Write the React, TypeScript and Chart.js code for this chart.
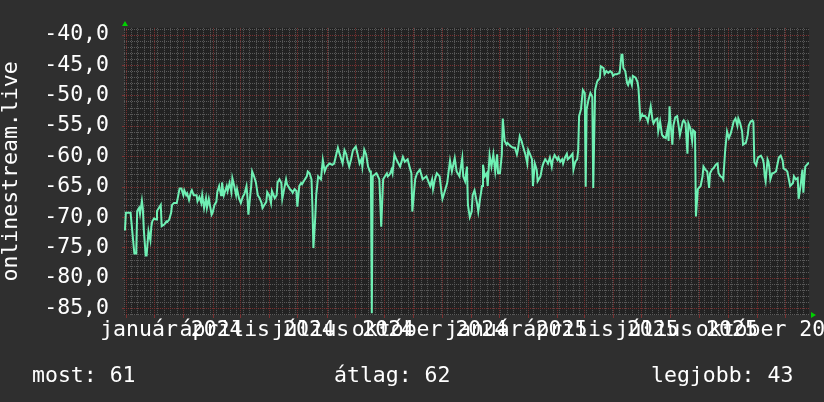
import React, { useEffect, useRef } from "react";
import { Chart, registerables } from "chart.js";

Chart.register(...registerables);

// ---------- data ----------
const START_UTC = Date.UTC(2023, 9, 30); // day 0 of the graph (2023-10-30)
const DAY_MS = 86400000;
const X_SPAN_DAYS = 727;
const Y_MIN = -86.1;
const Y_MAX = -38.9;

const dayOffsets = [
  1, 2, 7, 9, 11, 13, 14, 16, 17, 19, 20, 21, 23, 24, 26, 28, 29, 30, 32, 34, 35, 37, 39, 40, 43, 45, 46, 48, 50, 51,
  53, 56, 59, 61, 62, 63, 64, 66, 67, 69, 71, 72, 74, 77, 78, 80, 82, 83, 85, 87, 88, 90, 93, 94, 96, 98, 99, 101, 103, 104,
  106, 109, 110, 112, 114, 115, 117, 119, 120, 122, 124, 126, 128, 130, 131, 132, 134, 135, 136, 138, 140, 142, 144, 146, 147, 149, 151, 152, 154, 156,
  157, 160, 162, 163, 165, 167, 168, 170, 172, 173, 176, 178, 179, 181, 183, 184, 186, 188, 189, 192, 194, 195, 197, 199, 200, 201, 203, 204, 205, 206,
  209, 211, 213, 215, 218, 221, 223, 227, 229, 232, 234, 236, 237, 239, 241, 243, 246, 248, 250, 252, 253, 255, 257, 259, 261, 262, 263, 264, 268, 271,
  273, 275, 277, 279, 280, 282, 284, 285, 287, 289, 293, 296, 298, 301, 303, 305, 306, 309, 311, 314, 317, 321, 325, 327, 328, 330, 332, 335, 337, 338,
  340, 343, 346, 348, 351, 353, 356, 359, 360, 362, 364, 365, 367, 369, 370, 372, 375, 376, 378, 380, 381, 383, 385, 386, 388, 390, 392, 394, 396, 397,
  399, 401, 402, 404, 406, 407, 410, 413, 415, 417, 418, 420, 422, 423, 426, 428, 429, 431, 433, 434, 436, 438, 439, 442, 444, 445, 447, 449, 450, 452,
  454, 455, 457, 460, 461, 463, 465, 466, 468, 470, 471, 473, 476, 477, 479, 481, 482, 483, 485, 487, 489, 490, 491, 493, 495, 497, 498, 500, 502, 503,
  505, 506, 509, 510, 512, 514, 516, 518, 519, 521, 523, 526, 528, 529, 530, 532, 534, 535, 537, 539, 540, 543, 545, 546, 548, 550, 551, 553, 555, 556,
  559, 561, 562, 564, 566, 567, 569, 571, 572, 575, 577, 578, 579, 580, 582, 583, 585, 587, 588, 590, 593, 594, 596, 598, 599, 601, 603, 604, 606, 607,
  609, 612, 614, 615, 617, 619, 621, 622, 624, 626, 628, 630, 631, 633, 635, 636, 638, 640, 642, 644, 646, 647, 649, 651, 652, 654, 656, 657, 660, 662,
  663, 665, 667, 668, 669, 671, 672, 673, 676, 678, 679, 680, 681, 683, 684, 685, 686, 688, 689, 692, 695, 697, 699, 700, 702, 704, 707, 710, 711, 713,
  715, 716, 718, 720, 721, 723, 726, 727,
];

const signalValues = [
  -72.2, -69.3, -69.3, -72.7, -76, -76, -69, -68.5, -69.5, -67.3, -68.6, -72, -76.3, -76.3, -72.3, -73.8, -71.6, -70.7, -70.2, -70.4, -69, -68.5, -68, -71.5, -71.2, -70.7, -70.8, -70.4, -69.3, -68,
  -67.7, -67.7, -65.3, -65.3, -65.9, -66.4, -65.6, -66.4, -66.1, -67.2, -65.9, -65.6, -66.4, -66.4, -67.4, -66.7, -67.7, -66.4, -68.5, -66.9, -68.5, -67, -69.6, -69.3, -68, -67.5, -65.9, -64.9, -66.4, -64.3,
  -66.4, -64.9, -65.7, -64.4, -65.9, -63.6, -64.9, -66.4, -65.4, -66.9, -67.7, -66.7, -66.1, -64.9, -66.7, -69.6, -66.4, -64.9, -62.5, -63.3, -64.3, -66.4, -66.9, -67.7, -68.5, -68, -67.5, -65.9, -66.4, -67.7,
  -65.7, -66.9, -66.4, -64.3, -63.8, -64.4, -67, -65.4, -63.8, -64.6, -65.4, -65.7, -66, -65.4, -65.7, -68.3, -64.9, -64.4, -64.6, -63.8, -63.3, -62.5, -62.8, -63.8, -68.5, -75.1, -70, -66.4, -64.9, -63.3,
  -63.8, -60.6, -62.5, -61.7, -61.2, -61.4, -61.2, -58.6, -59.7, -61.2, -59, -59.7, -60.6, -61.7, -60.5, -59, -58.4, -59.7, -61.2, -60.5, -61.7, -58.9, -59.7, -61.7, -62.5, -62.5, -85.8, -63.3, -62.8, -63.8,
  -71.6, -63.8, -63.3, -62.8, -63.3, -63, -62.2, -62.8, -59.7, -60.5, -61.7, -60.1, -60.9, -60.5, -61.7, -62.8, -69.1, -63.8, -62.8, -62.2, -63.8, -63.3, -64.9, -63.8, -65.4, -63.8, -62.8, -63.3, -66, -67,
  -66, -64.4, -60.7, -62.5, -60.3, -62.5, -63.3, -60.3, -63.3, -64.1, -61.7, -68, -70, -69.1, -66.4, -65.6, -68, -69.1, -66.9, -64.9, -61.4, -63.3, -62.8, -64.9, -59.8, -61.7, -59.7, -62.5, -59.7, -62.8,
  -62.8, -59.7, -53.8, -57.5, -58.1, -57.8, -58.3, -58.6, -58.6, -59.7, -59, -56.7, -57.5, -58.1, -59.7, -61.2, -59, -59.7, -60.5, -64.9, -61.2, -62.2, -64.1, -63.3, -61.7, -61.2, -60.5, -60.9, -61.2, -60.2,
  -61.7, -60.6, -59.8, -60.6, -60.2, -60.9, -60.5, -61.2, -60.2, -59.6, -60.5, -60.2, -59.6, -62.2, -60.9, -60.5, -59.1, -53.4, -52.3, -49.1, -49.6, -65, -52.3, -50.7, -49.6, -50.2, -65.2, -49.1, -47.8, -47.5,
  -47.2, -45.2, -45.5, -46.5, -46, -46.3, -46, -46.3, -46.8, -46.5, -46.5, -46.3, -43.3, -43.3, -45.5, -46, -48, -48.3, -47.3, -48.3, -46.8, -47.1, -47.8, -48.8, -53.8, -53.1, -53.4, -53.4, -53.8, -54.3,
  -51.8, -54.1, -54.6, -54, -53.8, -55.9, -54.3, -56.5, -56.7, -57, -55.4, -57.5, -51.8, -54.5, -58.1, -55, -53.6, -53.4, -54.3, -56.5, -54.3, -54.1, -54.6, -59.6, -54.6, -55.4, -57.5, -55.7, -56, -69.9,
  -65.4, -64.9, -63.3, -61.7, -62.2, -62.5, -65.2, -62.8, -62.2, -61.9, -61.4, -61.2, -62.8, -63.3, -63.5, -63.8, -59.1, -55.9, -57, -56.2, -55, -54.3, -53.8, -55, -53.8, -54.6, -55.9, -58.1, -57.8, -56.5,
  -55, -54.3, -54.1, -54.4, -61, -61.5, -60.7, -60.2, -59.9, -60.5, -61.2, -63.3, -64.1, -60.5, -60.9, -62, -63.8, -62.8, -62.8, -62.5, -60.2, -59.9, -60.7, -62, -62.2, -62.5, -64.9, -64.4, -63.3, -63.8,
  -63.6, -67, -64.9, -62.2, -66, -61.7, -61.2, -61,
];

const monthNamesHu = [
  "január", "február", "március", "április", "május", "június",
  "július", "augusztus", "szeptember", "október", "november", "december",
];
const labelMonths: [number, number][] = [
  [2024, 0], [2024, 3], [2024, 6], [2024, 9],
  [2025, 0], [2025, 3], [2025, 6], [2025, 9],
];
const yAxisTitle = "onlinestream.live";
const summaryTexts = ["most: 61", "átlag: 62", "legjobb: 43"];

// ---------- derived tick tables ----------
const dayOf = (y: number, m: number, d = 1) => (Date.UTC(y, m, d) - START_UTC) / DAY_MS;

const monthStartDays: number[] = [];
for (let y = 2023; y <= 2025; y++) {
  for (let m = 0; m < 12; m++) {
    const d = dayOf(y, m);
    if (d >= 0 && d <= X_SPAN_DAYS) monthStartDays.push(d);
  }
}
const weekDays: number[] = [];
for (let d = 0; d <= X_SPAN_DAYS; d += 7) weekDays.push(d);
const majorX = new Set(monthStartDays);
const xLabelMap = new Map<number, string>(
  labelMonths.map(([y, m]) => [dayOf(y, m), `${monthNamesHu[m]} ${y}`])
);
const xTickValues = Array.from(new Set([...weekDays, ...monthStartDays])).sort((a, b) => a - b);
const yTickValues: number[] = [];
for (let v = Math.ceil(Y_MIN); v <= Math.floor(Y_MAX); v++) yTickValues.push(v);

const FONT_FAMILY = '"DejaVu Sans Mono", monospace';
const FONT_SIZE = 21.5;
const MINOR = "#5a5a5a";
const MAJOR = "#7a3030";

const rrdPlugin = {
  id: "rrdLook",
  beforeDraw(chart: any) {
    const { ctx, chartArea: a } = chart;
    ctx.save();
    ctx.fillStyle = "#2f2f2f";
    ctx.fillRect(0, 0, chart.width, chart.height);
    ctx.fillStyle = "#222222";
    ctx.fillRect(a.left, a.top, a.right - a.left, a.bottom - a.top);
    ctx.restore();
  },
  beforeDatasetsDraw(chart: any) {
    const { ctx, chartArea: a } = chart;
    const xs = chart.scales.x;
    const ys = chart.scales.y;
    ctx.save();
    ctx.lineWidth = 1;
    const vline = (v: number, color: string, dash: boolean, y0: number, y1: number) => {
      const px = Math.round(xs.getPixelForValue(v)) + 0.5;
      ctx.strokeStyle = color;
      ctx.setLineDash(dash ? [1, 1] : []);
      ctx.beginPath();
      ctx.moveTo(px, y0);
      ctx.lineTo(px, y1);
      ctx.stroke();
    };
    const hline = (v: number, color: string, dash: boolean, x0: number, x1: number) => {
      const py = Math.round(ys.getPixelForValue(v)) + 0.5;
      ctx.strokeStyle = color;
      ctx.setLineDash(dash ? [1, 1] : []);
      ctx.beginPath();
      ctx.moveTo(x0, py);
      ctx.lineTo(x1, py);
      ctx.stroke();
    };
    // minor grid
    xTickValues.forEach((v) => { if (!majorX.has(v)) vline(v, MINOR, true, a.top, a.bottom); });
    yTickValues.forEach((v) => { if (v % 5 !== 0) hline(v, MINOR, true, a.left, a.right); });
    // major grid
    xTickValues.forEach((v) => {
      if (majorX.has(v)) {
        vline(v, MAJOR, true, a.top, a.bottom);
        vline(v, MAJOR, false, a.bottom, a.bottom + 3);
      }
    });
    yTickValues.forEach((v) => {
      if (v % 5 === 0) {
        hline(v, MAJOR, true, a.left, a.right);
        hline(v, MAJOR, false, a.left - 2, a.left);
      }
    });
    ctx.restore();
  },
  afterDraw(chart: any) {
    const { ctx, chartArea: a } = chart;
    ctx.save();
    ctx.fillStyle = "#00d000";
    ctx.beginPath();
    ctx.moveTo(a.left - 2, a.top - 2);
    ctx.lineTo(a.left + 4, a.top - 2);
    ctx.lineTo(a.left + 1, a.top - 7);
    ctx.closePath();
    ctx.fill();
    ctx.beginPath();
    ctx.moveTo(a.right + 2, a.bottom - 3);
    ctx.lineTo(a.right + 2, a.bottom + 3);
    ctx.lineTo(a.right + 7, a.bottom);
    ctx.closePath();
    ctx.fill();
    ctx.fillStyle = "#ffffff";
    ctx.font = `${FONT_SIZE}px ${FONT_FAMILY}`;
    ctx.textBaseline = "alphabetic";
    ctx.textAlign = "left";
    const xs = [32, 334, 651];
    summaryTexts.forEach((t, i) => ctx.fillText(t, xs[i], 382));
    ctx.restore();
  },
};

export default function App() {
  const ref = useRef<HTMLCanvasElement | null>(null);
  useEffect(() => {
    document.body.style.margin = "0";
    const canvas = ref.current!;
    const points = dayOffsets.map((d, i) => ({ x: d, y: signalValues[i] }));
    const chart = new Chart(canvas, {
      type: "line",
      data: {
        datasets: [
          {
            data: points,
            borderColor: "#6ff0b4",
            borderWidth: 2,
            pointRadius: 0,
            tension: 0,
            fill: false,
          },
        ],
      },
      plugins: [rrdPlugin],
      options: {
        animation: false,
        responsive: false,
        devicePixelRatio: 1,
        events: [],
        layout: { padding: { top: 15, right: 15, left: 0, bottom: 0 } },
        plugins: { legend: { display: false }, tooltip: { enabled: false } },
        scales: {
          x: {
            type: "linear",
            min: 0,
            max: X_SPAN_DAYS,
            afterBuildTicks: (s: any) => {
              s.ticks = xTickValues.map((v) => ({ value: v }));
            },
            afterFit: (s: any) => {
              s.height = 87;
            },
            ticks: {
              autoSkip: false,
              maxRotation: 0,
              minRotation: 0,
              color: "#ffffff",
              font: { family: FONT_FAMILY, size: FONT_SIZE },
              padding: 3,
              labelOffset: -12,
              callback: (v: any) => xLabelMap.get(Number(v)) ?? "",
            },
            grid: { display: false, drawTicks: false },
            border: { display: false },
          },
          y: {
            type: "linear",
            min: Y_MIN,
            max: Y_MAX,
            afterBuildTicks: (s: any) => {
              s.ticks = yTickValues.map((v) => ({ value: v }));
            },
            afterFit: (s: any) => {
              s.width = 124;
            },
            ticks: {
              autoSkip: false,
              color: "#ffffff",
              font: { family: FONT_FAMILY, size: FONT_SIZE },
              padding: 15,
              callback: (v: any) => (Number(v) % 5 === 0 ? Number(v).toFixed(1).replace(".", ",") : ""),
            },
            grid: { display: false, drawTicks: false },
            border: { display: false },
            title: {
              display: true,
              text: yAxisTitle,
              color: "#ffffff",
              font: { family: FONT_FAMILY, size: FONT_SIZE, lineHeight: 1.1 },
              padding: 0,
            },
          },
        },
      },
    });
    return () => chart.destroy();
  }, []);
  return (
    <div style={{ position: "fixed", left: 0, top: 0, width: 824, height: 402 }}>
      <canvas ref={ref} width={824} height={402} style={{ display: "block" }} />
    </div>
  );
}
